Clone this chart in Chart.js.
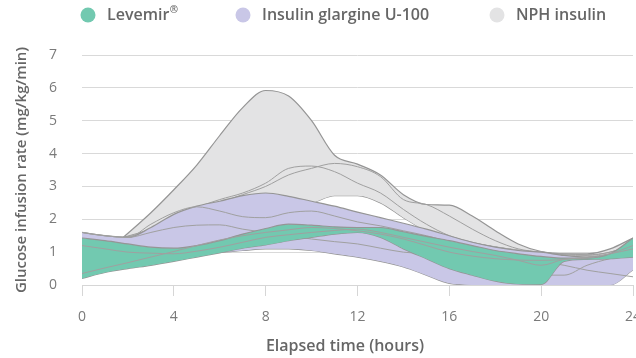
<!DOCTYPE html>
<html>
<head>
<meta charset="utf-8">
<script src="https://cdn.jsdelivr.net/npm/chart.js@4/dist/chart.umd.min.js"></script>
<style>
  html, body { margin: 0; padding: 0; background: #fff; overflow: hidden; width: 636px; height: 358px; }
  canvas { display: block; }
</style>
</head>
<body>
<canvas id="c" width="660" height="358"></canvas>
<script>
// ---- data ----
const hours = [0,1,2,3,4,5,6,7,8,9,10,11,12,13,14,15,16,17,18,19,20,21,22,23,24];
const nphHours = [1.8,3,4,5,6,7,8,9,10,11,12,13,14,15,16,17,18,19,20,21,22,23,24];

const seriesNames = ['Levemir®', 'Insulin glargine U-100', 'NPH insulin'];
const xTicks = [0,4,8,12,16,20,24];
const yTicks = [0,1,2,3,4,5,6,7];
const xTitle = 'Elapsed time (hours)';
const yTitle = 'Glucose infusion rate (mg/kg/min)';

// Levemir (teal) band
const levemirUpper = [1.43,1.35,1.25,1.15,1.12,1.2,1.35,1.55,1.72,1.85,1.82,1.77,1.75,1.75,1.62,1.48,1.35,1.2,1.05,0.95,0.87,0.82,0.82,0.95,1.43];
const levemirLower = [0.2,0.38,0.5,0.6,0.72,0.85,0.98,1.12,1.22,1.35,1.45,1.55,1.6,1.45,1.1,0.8,0.5,0.3,0.12,0.03,0.02,0.72,0.78,0.8,0.85];
const levemirCurveA = [0.35,0.52,0.68,0.85,1.02,1.2,1.37,1.5,1.6,1.68,1.75,1.72,1.65,1.55,1.4,1.2,1.0,0.88,0.8,0.76,0.75,0.78,0.85,0.95,1.1];
const levemirCurveB = [1.2,1.1,1.0,0.97,0.95,1.03,1.15,1.3,1.45,1.53,1.6,1.66,1.7,1.6,1.45,1.3,1.15,1.02,0.9,0.75,0.6,0.78,0.82,0.95,1.2];

// Insulin glargine U-100 (lavender) band
const glargineUpper = [1.6,1.5,1.45,1.75,2.15,2.4,2.55,2.72,2.8,2.7,2.55,2.4,2.22,2.05,1.88,1.7,1.5,1.3,1.15,1.05,1.0,0.9,0.85,0.9,1.0];
const glargineLower = [0.9,0.9,0.9,0.95,1.0,1.0,1.0,1.05,1.1,1.1,1.05,0.95,0.85,0.72,0.55,0.3,0.05,0,0,0,0,0,0,0,0.46];
const glargineCurveA = [1.6,1.5,1.45,1.85,2.2,2.38,2.25,2.08,2.05,2.2,2.25,2.1,1.92,1.8,1.65,1.5,1.3,1.0,0.7,0.45,0.3,0.3,0.6,0.8,0.9];
const glargineCurveB = [1.6,1.5,1.45,1.6,1.75,1.82,1.83,1.7,1.6,1.5,1.4,1.32,1.25,1.12,1.0,0.95,0.9,0.82,0.75,0.72,0.7,0.6,0.45,0.35,0.25];

// NPH insulin (grey) band
const nphUpper = [1.45,2.2,2.9,3.65,4.55,5.4,5.92,5.75,5.0,3.95,3.68,3.35,2.75,2.45,2.43,2.1,1.65,1.25,1.02,0.95,0.95,1.1,1.43];
const nphLower = [1.45,1.7,1.95,2.1,2.25,2.4,2.45,2.45,2.5,2.72,2.72,2.5,2.05,1.65,1.45,1.3,1.18,1.08,1.0,0.9,0.85,0.95,1.3];
const nphCurveA = [1.45,1.7,2.0,2.35,2.6,2.8,3.1,3.55,3.62,3.45,3.1,2.8,2.3,1.85,1.5,1.3,1.15,1.05,1.0,0.92,0.9,1.0,1.2];
const nphCurveB = [1.45,1.6,1.8,2.2,2.5,2.75,3.0,3.35,3.55,3.7,3.6,3.3,2.6,2.45,2.1,1.7,1.35,1.1,1.0,0.95,0.92,1.0,1.25];

const colors = ['#72c9b0', '#c9c7e7', '#e3e3e4'];
const lineColor = '#959595';

// ---- build datasets ----
function pts(xs, ys) { return xs.map((x, i) => ({ x: x, y: ys[i] })); }
function band(xs, upper, lower, inner, color, order) {
  const base = { borderColor: lineColor, borderWidth: 1.2, pointRadius: 0, cubicInterpolationMode: 'monotone' };
  const ds = [];
  ds.push(Object.assign({}, base, { data: pts(xs, upper), fill: { target: '+1' }, backgroundColor: color, order: order + 0.5 }));
  ds.push(Object.assign({}, base, { data: pts(xs, lower), fill: false, order: order + 0.5 }));
  inner.forEach(c => ds.push(Object.assign({}, base, { data: pts(xs, c), fill: false, borderColor: '#a0a0a0', borderWidth: 1, order: order })));
  return ds;
}
const datasets = [].concat(
  band(nphHours, nphUpper, nphLower, [nphCurveA, nphCurveB], colors[2], 3),
  band(hours, glargineUpper, glargineLower, [glargineCurveA, glargineCurveB], colors[1], 2),
  band(hours, levemirUpper, levemirLower, [levemirCurveA, levemirCurveB], colors[0], 1)
);

const textPlugin = {
  id: 'texts',
  afterDraw(chart) {
    const ctx = chart.ctx;
    ctx.save();
    // legend
    const lx = [88, 243, 497];
    ctx.textBaseline = 'middle';
    ctx.textAlign = 'left';
    seriesNames.forEach((n, i) => {
      ctx.fillStyle = colors[i];
      ctx.beginPath();
      ctx.arc(lx[i], 15, 7.5, 0, Math.PI * 2);
      ctx.fill();
      ctx.fillStyle = '#666666';
      ctx.font = "600 16px 'Open Sans'";
      const m = n.match(/^(.*?)(®?)$/);
      ctx.fillText(m[1], lx[i] + 19, 15);
      if (m[2]) {
        const w = ctx.measureText(m[1]).width;
        ctx.font = "600 10px 'Open Sans'";
        ctx.fillText(m[2], lx[i] + 19 + w + 0.5, 10);
      }
    });
    // x title
    ctx.font = "600 16px 'Open Sans'";
    ctx.fillStyle = '#666666';
    ctx.textAlign = 'center';
    ctx.fillText(xTitle, 345, 346);
    // y title
    ctx.font = "600 15px 'Open Sans'";
    ctx.translate(22, (chart.chartArea.top + chart.chartArea.bottom) / 2);
    ctx.rotate(-Math.PI / 2);
    ctx.fillText(yTitle, 0, 0);
    ctx.restore();
  }
};

new Chart(document.getElementById('c'), {
  type: 'line',
  data: { datasets: datasets },
  options: {
    responsive: false,
    animation: false,
    devicePixelRatio: 1,
    layout: { padding: { left: 0, top: 55, right: 27, bottom: 0 } },
    plugins: { legend: { display: false }, tooltip: { enabled: false }, filler: { propagate: false } },
    scales: {
      x: {
        type: 'linear', min: 0, max: 24,
        afterBuildTicks: s => { s.ticks = xTicks.map(v => ({ value: v })); },
        afterFit: s => { s.height = 73; },
        grid: { drawOnChartArea: false, drawTicks: true, tickLength: 11, color: '#d6d6d6' },
        border: { display: true, color: '#d6d6d6' },
        ticks: { padding: 13, color: '#7a7a7a', font: { family: 'Open Sans', size: 14 } }
      },
      y: {
        min: 0, max: 7,
        afterBuildTicks: s => { s.ticks = yTicks.map(v => ({ value: v })); },
        afterFit: s => { s.width = 82; },
        grid: { drawTicks: false, color: '#d9d9d9' },
        border: { display: false },
        ticks: { padding: 25, color: '#7a7a7a', font: { family: 'Open Sans', size: 14 } }
      }
    }
  },
  plugins: [textPlugin]
});
</script>
</body>
</html>
